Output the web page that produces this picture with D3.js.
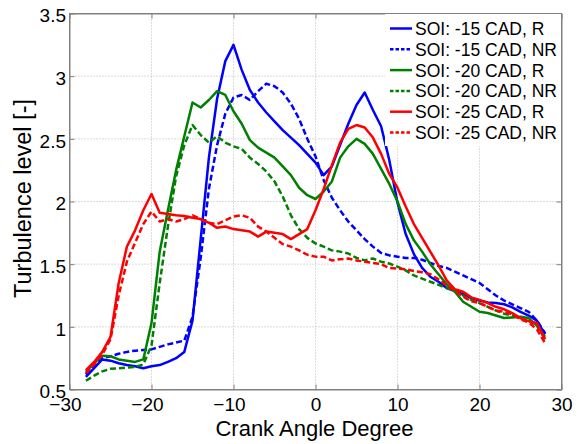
<!DOCTYPE html>
<html>
<head>
<meta charset="utf-8">
<script src="https://cdn.jsdelivr.net/npm/d3@7"></script>
<style>
  html, body { margin: 0; padding: 0; background: #fff; }
  svg { display: block; font-family: "Liberation Sans", Arial, Helvetica, sans-serif; }
</style>
</head>
<body>
<svg id="chart" width="581" height="444"></svg>
<script>
// Crank angle grid (CAD), one sample per degree
const crankAngle = d3.range(-28, 29);

// Turbulence level per start of injection (SOI), reactive (R) and non-reactive (NR)
const soi15R = [0.60,0.67,0.74,0.73,0.71,0.695,0.685,0.67,0.685,0.695,0.72,0.75,0.80,1.05,1.70,2.35,2.82,3.12,3.25,3.05,2.89,2.79,2.71,2.64,2.57,2.51,2.45,2.38,2.31,2.21,2.28,2.45,2.62,2.77,2.87,2.73,2.60,2.33,1.99,1.74,1.58,1.47,1.40,1.36,1.31,1.285,1.26,1.23,1.21,1.195,1.19,1.18,1.155,1.12,1.09,1.05,0.94];
const soi15NR = [0.62,0.70,0.75,0.765,0.785,0.80,0.81,0.815,0.82,0.84,0.86,0.875,0.89,1.08,1.55,2.10,2.45,2.70,2.83,2.85,2.81,2.88,2.94,2.92,2.87,2.78,2.66,2.50,2.36,2.17,2.03,1.93,1.84,1.77,1.70,1.64,1.59,1.57,1.56,1.55,1.55,1.535,1.51,1.485,1.47,1.44,1.41,1.38,1.35,1.30,1.25,1.21,1.18,1.15,1.12,1.05,0.95];
const soi20R = [0.64,0.71,0.77,0.765,0.74,0.73,0.72,0.74,1.03,1.60,1.93,2.25,2.52,2.79,2.75,2.81,2.88,2.85,2.72,2.62,2.49,2.43,2.39,2.35,2.28,2.21,2.11,2.05,2.02,2.08,2.16,2.35,2.44,2.50,2.46,2.38,2.26,2.14,2.00,1.82,1.69,1.60,1.50,1.42,1.34,1.28,1.20,1.16,1.12,1.11,1.09,1.07,1.075,1.08,1.07,1.01,0.92];
const soi20NR = [0.57,0.61,0.645,0.665,0.67,0.675,0.68,0.70,0.85,1.35,1.80,2.20,2.45,2.61,2.53,2.47,2.52,2.47,2.44,2.42,2.35,2.30,2.24,2.16,2.04,1.89,1.78,1.71,1.665,1.64,1.61,1.60,1.585,1.55,1.53,1.545,1.52,1.505,1.48,1.45,1.41,1.385,1.36,1.335,1.31,1.285,1.25,1.215,1.19,1.16,1.13,1.105,1.09,1.07,1.05,1.01,0.90];
const soi25R = [0.655,0.72,0.80,0.92,1.35,1.64,1.77,1.93,2.06,1.91,1.90,1.89,1.885,1.87,1.86,1.83,1.79,1.80,1.78,1.77,1.76,1.72,1.76,1.75,1.74,1.70,1.74,1.78,1.93,2.10,2.29,2.47,2.58,2.61,2.59,2.51,2.38,2.22,2.11,1.96,1.82,1.71,1.60,1.49,1.37,1.30,1.28,1.235,1.215,1.19,1.16,1.14,1.11,1.07,1.045,1.03,0.90];
const soi25NR = [0.63,0.70,0.78,0.90,1.25,1.52,1.67,1.82,1.92,1.84,1.86,1.84,1.86,1.89,1.86,1.83,1.82,1.85,1.88,1.89,1.87,1.80,1.76,1.71,1.66,1.64,1.61,1.575,1.56,1.56,1.53,1.54,1.545,1.53,1.52,1.51,1.50,1.47,1.465,1.46,1.445,1.435,1.42,1.38,1.33,1.29,1.24,1.205,1.19,1.16,1.13,1.12,1.10,1.06,1.035,0.98,0.87];

const seriesNames = ["SOI: -15 CAD, R", "SOI: -15 CAD, NR", "SOI: -20 CAD, R", "SOI: -20 CAD, NR", "SOI: -25 CAD, R", "SOI: -25 CAD, NR"];
const seriesValues = [soi15R, soi15NR, soi20R, soi20NR, soi25R, soi25NR];
const seriesColors = ["#0000ff", "#0000ff", "#008000", "#008000", "#ff0000", "#ff0000"];
const seriesDashed = [false, true, false, true, false, true];

const xTicks = [-30, -20, -10, 0, 10, 20, 30];
const yTicks = [0.5, 1, 1.5, 2, 2.5, 3, 3.5];
const xTitle = "Crank Angle Degree";
const yTitle = "Turbulence level [-]";

// Plot frame
const plotLeft = 69.5, plotRight = 561.5, plotTop = 13.5, plotBottom = 389.5;
const svg = d3.select("#chart");

const x = d3.scaleLinear().domain([-30, 30]).range([plotLeft, plotRight]);
const y = d3.scaleLinear().domain([0.5, 3.5]).range([plotBottom, plotTop]);

const frameColor = "#808080";
const gridColor = "#b8b8b8";
const tickFont = 19;

// Dotted grid
const grid = svg.append("g");
grid.selectAll("line.gx").data(xTicks.slice(1, -1)).join("line")
  .attr("class", "gx")
  .attr("x1", d => x(d)).attr("x2", d => x(d))
  .attr("y1", plotTop).attr("y2", plotBottom)
  .attr("stroke", gridColor).attr("stroke-width", 1).attr("stroke-dasharray", "1,2");
grid.selectAll("line.gy").data(yTicks.slice(1, -1)).join("line")
  .attr("class", "gy")
  .attr("x1", plotLeft).attr("x2", plotRight)
  .attr("y1", d => y(d)).attr("y2", d => y(d))
  .attr("stroke", gridColor).attr("stroke-width", 1).attr("stroke-dasharray", "1,2");

// Curves
const line = d3.line()
  .x((d, i) => x(crankAngle[i]))
  .y(d => y(d));

const curves = svg.append("g");
seriesValues.forEach((vals, k) => {
  curves.append("path")
    .attr("d", line(vals))
    .attr("fill", "none")
    .attr("stroke", seriesColors[k])
    .attr("stroke-width", 2.5)
    .attr("stroke-linejoin", "round")
    .attr("stroke-dasharray", seriesDashed[k] ? "6,3" : null);
});

// Axes with inward ticks on all four sides
function styleAxis(g) {
  g.select(".domain").attr("stroke", frameColor).attr("stroke-width", 1);
  g.selectAll(".tick line").attr("stroke", frameColor).attr("stroke-width", 1);
  g.selectAll(".tick text")
    .attr("fill", "#000")
    .style("font-size", tickFont + "px")
    .style("font-family", "'Liberation Sans', Arial, sans-serif");
}

const xAxis = svg.append("g")
  .attr("transform", `translate(0,${plotBottom})`)
  .call(d3.axisBottom(x).tickValues(xTicks).tickFormat(d3.format("d"))
        .tickSizeInner(-5).tickSizeOuter(0).tickPadding(8.5))
  .call(styleAxis);
xAxis.selectAll(".tick text")
  .attr("dx", d => d < 0 ? "-0.24em" : 0);

svg.append("g")
  .attr("transform", `translate(0,${plotTop})`)
  .call(d3.axisTop(x).tickValues(xTicks).tickFormat("")
        .tickSizeInner(-5).tickSizeOuter(0))
  .call(styleAxis);

const yAxis = svg.append("g")
  .attr("transform", `translate(${plotLeft},0)`)
  .call(d3.axisLeft(y).tickValues(yTicks).tickFormat(d => String(d))
        .tickSizeInner(-5).tickSizeOuter(0).tickPadding(3.5))
  .call(styleAxis);
yAxis.selectAll(".tick text").attr("dy", "0.44em");

svg.append("g")
  .attr("transform", `translate(${plotRight},0)`)
  .call(d3.axisRight(y).tickValues(yTicks).tickFormat("")
        .tickSizeInner(-5).tickSizeOuter(0))
  .call(styleAxis);

// Axis titles
svg.append("text")
  .attr("x", (plotLeft + plotRight) / 2 - 1)
  .attr("y", 436)
  .attr("text-anchor", "middle")
  .style("font-size", "22px")
  .attr("fill", "#000")
  .text(xTitle);

svg.append("text")
  .attr("transform", `translate(31,${(plotTop + plotBottom) / 2 - 3}) rotate(-90)`)
  .attr("text-anchor", "middle")
  .style("font-size", "23.5px")
  .attr("fill", "#000")
  .text(yTitle);

// Legend (white panel in the upper-right corner)
const legend = svg.append("g");
legend.append("rect")
  .attr("x", 385).attr("y", plotTop + 0.5)
  .attr("width", plotRight - 385 - 0.5).attr("height", 132)
  .attr("fill", "#fff");

const rowStep = 20.8, firstBaseline = 35;
seriesNames.forEach((name, k) => {
  const base = firstBaseline + k * rowStep;
  legend.append("line")
    .attr("x1", 390).attr("x2", 412)
    .attr("y1", base - 6.5).attr("y2", base - 6.5)
    .attr("stroke", seriesColors[k])
    .attr("stroke-width", 2.5)
    .attr("stroke-dasharray", seriesDashed[k] ? "3.5,2" : null);
  legend.append("text")
    .attr("x", 415).attr("y", base)
    .style("font-size", "17.5px")
    .attr("fill", "#000")
    .text(name);
});

// Frame edges drawn on top of the legend panel
svg.append("rect")
  .attr("x", plotLeft).attr("y", plotTop)
  .attr("width", plotRight - plotLeft).attr("height", plotBottom - plotTop)
  .attr("fill", "none").attr("stroke", frameColor).attr("stroke-width", 1);
</script>
</body>
</html>
